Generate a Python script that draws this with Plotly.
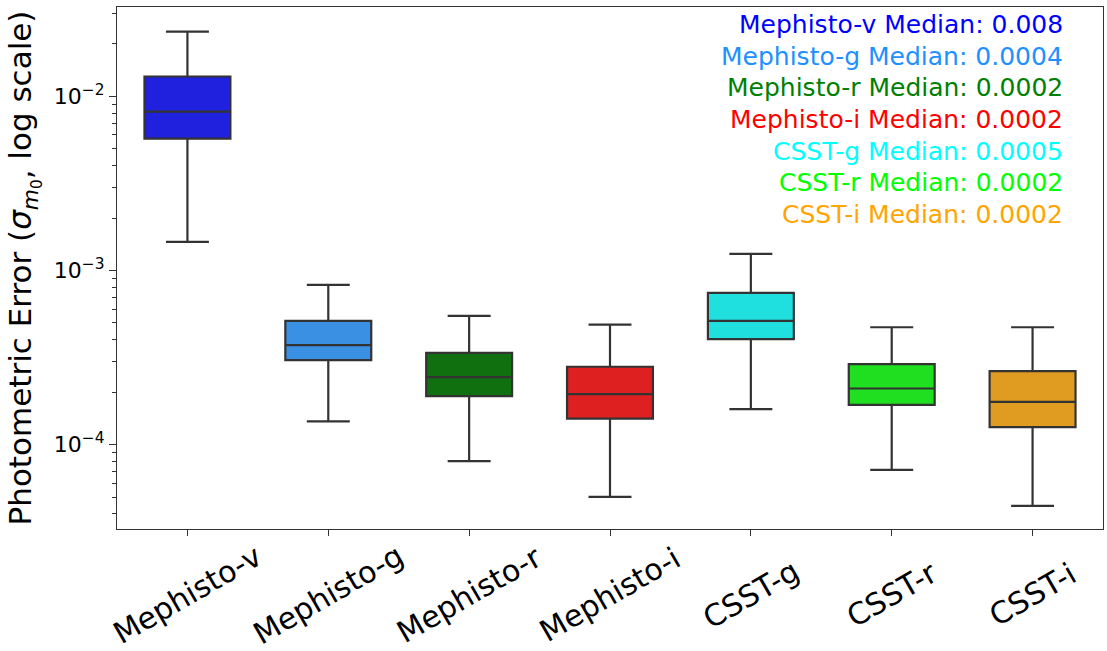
import plotly.graph_objects as go

categories = ["Mephisto-v", "Mephisto-g", "Mephisto-r", "Mephisto-i", "CSST-g", "CSST-r", "CSST-i"]
lower_whisker = [0.00146, 0.000136, 0.0000803, 0.0000501, 0.000160, 0.0000716, 0.0000445]
q1_values = [0.00572, 0.000306, 0.000190, 0.000141, 0.000404, 0.000169, 0.000126]
medians = [0.00818, 0.000373, 0.000244, 0.000195, 0.000514, 0.000210, 0.000176]
q3_values = [0.0130, 0.000513, 0.000336, 0.000280, 0.000743, 0.000290, 0.000264]
upper_whisker = [0.0235, 0.000826, 0.000548, 0.000489, 0.001245, 0.000472, 0.000472]
fill_colors = ["#2020df", "#3a90e3", "#107010", "#df2020", "#20dfdf", "#20df20", "#df9c20"]
text_colors = ["blue", "dodgerblue", "green", "red", "cyan", "lime", "orange"]
median_labels = ["0.008", "0.0004", "0.0002", "0.0002", "0.0005", "0.0002", "0.0002"]
ytick_vals = [1e-4, 1e-3, 1e-2]
ytick_text = ["10<sup>\u22124</sup>", "10<sup>\u22123</sup>", "10<sup>\u22122</sup>"]

edge = "#333333"
font_family = "DejaVu Sans"

fig = go.Figure()
for i, cat in enumerate(categories):
    fig.add_trace(go.Box(
        x=[cat],
        q1=[q1_values[i]],
        median=[medians[i]],
        q3=[q3_values[i]],
        lowerfence=[lower_whisker[i]],
        upperfence=[upper_whisker[i]],
        fillcolor=fill_colors[i],
        line=dict(color=edge, width=2.2),
        width=0.61,
        whiskerwidth=0.5,
        boxpoints=False,
        showlegend=False,
        hoverinfo="skip",
    ))

for i, cat in enumerate(categories):
    fig.add_annotation(
        x=0.961, y=0.966 - i * 0.0605, xref="paper", yref="paper",
        xanchor="right", yanchor="middle", showarrow=False,
        text=f"{cat} Median: {median_labels[i]}",
        font=dict(family=font_family, size=25, color=text_colors[i]),
    )

# category tick labels, centred under their ticks and rotated by 30 degrees
for cat in categories:
    fig.add_annotation(
        x=cat, y=-0.126, xref="x", yref="paper",
        xanchor="center", yanchor="middle", showarrow=False,
        text=cat, textangle=-30,
        font=dict(family=font_family, size=30, color="black"),
    )

minor_vals = []
for p in [-5, -4, -3, -2]:
    for m in range(2, 10):
        minor_vals.append(m * 10.0 ** p)

fig.update_layout(
    width=1107, height=651,
    margin=dict(l=117, r=4, t=7, b=122),
    plot_bgcolor="white", paper_bgcolor="white",
    boxmode="overlay",
    font=dict(family=font_family, color="black"),
    xaxis=dict(
        type="category", categoryorder="array", categoryarray=categories,
        range=[-0.5, 6.5], automargin=False,
        showline=True, linecolor="#333333", linewidth=1.3, mirror=True,
        ticks="outside", ticklen=6, tickwidth=1.3, tickcolor="#333333",
        showticklabels=False,
        showgrid=False, zeroline=False,
    ),
    yaxis=dict(
        type="log", range=[-4.4845, -1.487], automargin=False,
        tickmode="array", tickvals=ytick_vals, ticktext=ytick_text,
        tickfont=dict(size=22, family=font_family),
        ticks="outside", ticklen=7, tickwidth=1.3, tickcolor="#333333",
        minor=dict(tickmode="array", tickvals=minor_vals, ticks="outside",
                   ticklen=4, tickwidth=1, tickcolor="#333333", showgrid=False),
        showline=True, linecolor="#333333", linewidth=1.3, mirror=True,
        showgrid=False, zeroline=False,
        title=dict(
            text="Photometric Error (<i>\u03c3</i><sub><i>m</i><sub>0</sub></sub>, log scale)",
            font=dict(size=31, family=font_family), standoff=12,
        ),
    ),
)

fig.write_html("out.html")
